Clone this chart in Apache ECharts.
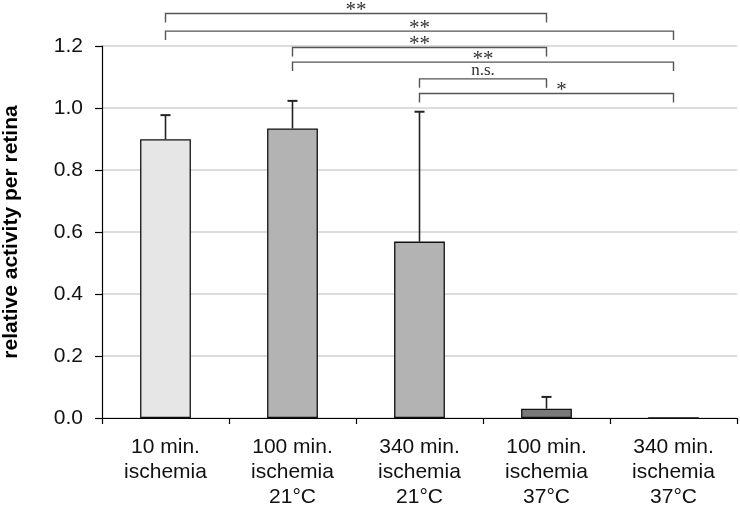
<!DOCTYPE html>
<html>
<head>
<meta charset="utf-8">
<script src="https://cdn.jsdelivr.net/npm/echarts@6/dist/echarts.min.js"></script>
<style>html,body{margin:0;padding:0;background:#fff;}#c{width:740px;height:507px;}</style>
</head>
<body>
<div id="c"></div>
<script>
var categories = ['10 min.\nischemia', '100 min.\nischemia\n21°C', '340 min.\nischemia\n21°C', '100 min.\nischemia\n37°C', '340 min.\nischemia\n37°C'];
var means = [0.899, 0.934, 0.569, 0.030, 0];
var errors = [0.078, 0.089, 0.419, 0.038, 0];
var barColors = ['#e6e6e6', '#b3b3b3', '#b3b3b3', '#7a7a7a', '#7a7a7a'];
var yTicks = [0, 0.2, 0.4, 0.6, 0.8, 1.0, 1.2];

var bracketFrom = [0, 0, 1, 1, 2, 2];
var bracketTo = [3, 4, 3, 4, 3, 4];
var bracketLevel = [1.305, 1.248, 1.195, 1.148, 1.094, 1.047];
var bracketLabels = ['**', '**', '**', '**', 'n.s.', '*'];
var bracketLabelShift = [0, 0, 0, 0, 0, 15];

var chart = echarts.init(document.getElementById('c'), null, {renderer: 'canvas'});

var barData = means.map(function (v, i) {
  return {value: v, itemStyle: {color: barColors[i]}};
});
var errData = means.map(function (v, i) { return [i, v, v + errors[i]]; }).filter(function (d, i) { return errors[i] > 0; });
var bracketData = bracketFrom.map(function (f, i) {
  return [f, bracketTo[i], bracketLevel[i], i];
});

var option = {
  animation: false,
  backgroundColor: '#ffffff',
  grid: {left: 102, right: 3, top: 46, bottom: 89, containLabel: false, outerBoundsMode: 'none'},
  xAxis: {
    type: 'category',
    data: categories,
    boundaryGap: true,
    axisLine: {lineStyle: {color: '#000', width: 1.2}},
    axisTick: {show: true, length: 6, alignWithLabel: false, lineStyle: {color: '#000', width: 1.2}},
    axisLabel: {
      color: '#111', fontFamily: '"Liberation Sans", Arial, sans-serif', fontSize: 21,
      lineHeight: 25, margin: 17, interval: 0
    }
  },
  yAxis: {
    type: 'value',
    min: 0, max: 1.2, interval: 0.2,
    name: 'relative activity per retina',
    nameLocation: 'middle',
    nameGap: 80,
    nameRotate: 90,
    nameTextStyle: {fontFamily: '"Liberation Sans", Arial, sans-serif', fontSize: 21, fontWeight: 'bold', color: '#000'},
    axisLine: {show: true, lineStyle: {color: '#000', width: 1.2}},
    axisTick: {show: true, length: 7, lineStyle: {color: '#000', width: 1.2}},
    axisLabel: {
      color: '#111', fontFamily: '"Liberation Sans", Arial, sans-serif', fontSize: 21, margin: 19,
      formatter: function (v) { return v.toFixed(1); }
    },
    splitLine: {show: true, lineStyle: {color: '#d0d0d0', width: 1.5}}
  },
  series: [
    {
      type: 'bar',
      data: barData,
      barWidth: '40%',
      itemStyle: {borderColor: '#111', borderWidth: 1.3},
      z: 2
    },
    {
      type: 'custom',
      data: errData,
      clip: false,
      z: 3,
      renderItem: function (params, api) {
        var x = api.value(0);
        var p0 = api.coord([x, api.value(1)]);
        var p1 = api.coord([x, api.value(2)]);
        var style = {stroke: '#222', lineWidth: 1.6};
        return {
          type: 'group',
          children: [
            {type: 'line', shape: {x1: p0[0], y1: p0[1], x2: p1[0], y2: p1[1]}, style: style},
            {type: 'line', shape: {x1: p1[0] - 5, y1: p1[1], x2: p1[0] + 5, y2: p1[1]}, style: {stroke: '#222', lineWidth: 2}}
          ]
        };
      }
    },
    {
      type: 'custom',
      data: bracketData,
      clip: false,
      z: 4,
      renderItem: function (params, api) {
        var a = api.coord([api.value(0), api.value(2)]);
        var b = api.coord([api.value(1), api.value(2)]);
        var idx = api.value(3);
        var drop = 9;
        var mid = (a[0] + b[0]) / 2 + bracketLabelShift[idx];
        var isStar = bracketLabels[idx].indexOf('*') >= 0;
        return {
          type: 'group',
          children: [
            {
              type: 'polyline',
              shape: {points: [[a[0], a[1] + drop], [a[0], a[1]], [b[0], b[1]], [b[0], b[1] + drop]]},
              style: {stroke: '#555', lineWidth: 1.4, fill: null}
            },
            {
              type: 'text',
              style: {
                text: bracketLabels[idx], x: mid, y: a[1] - (isStar ? 3 : 8),
                textAlign: 'center', textVerticalAlign: 'middle',
                font: (isStar ? '21px' : '17px') + ' "Liberation Serif", "Times New Roman", serif', fill: '#333'
              }
            }
          ]
        };
      }
    }
  ]
};
chart.setOption(option);
</script>
</body>
</html>
